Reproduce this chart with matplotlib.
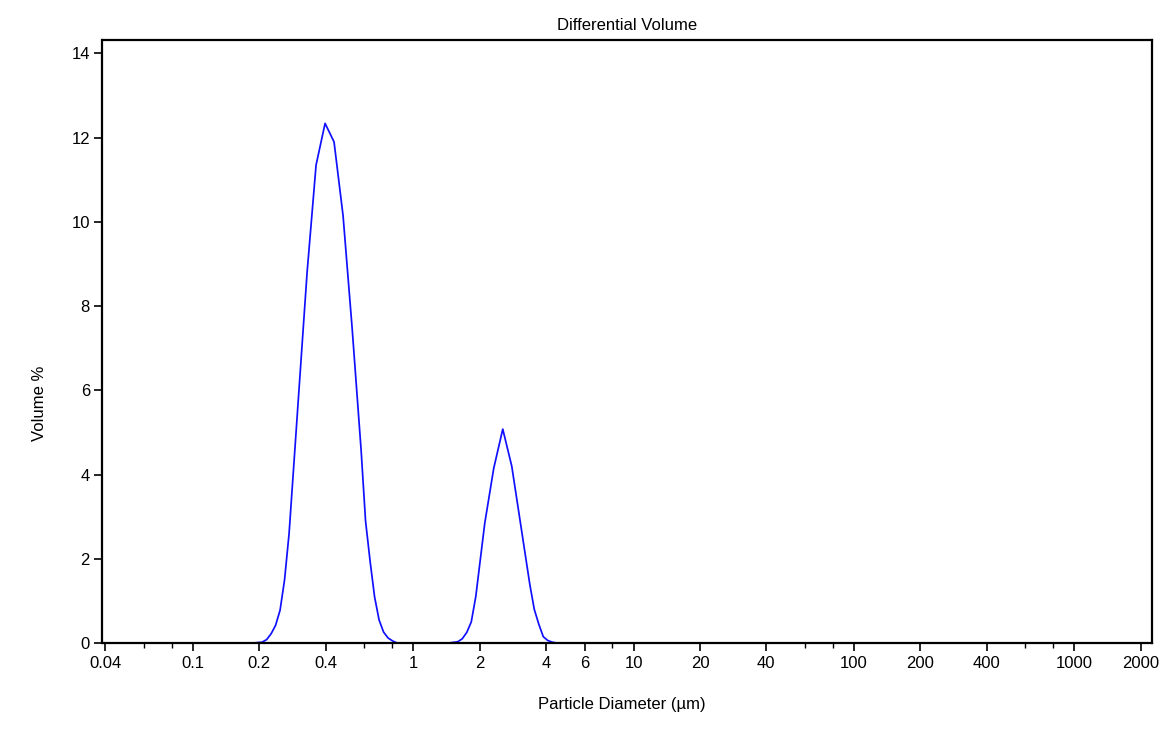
import matplotlib
matplotlib.use("Agg")
import matplotlib.pyplot as plt
from matplotlib.ticker import FixedLocator, FixedFormatter, NullFormatter

plt.rcParams['font.family'] = ['Liberation Sans', 'DejaVu Sans']

# ---- data ----
diam_peak1 = [0.1873, 0.2057, 0.2157, 0.2261, 0.2369, 0.2483, 0.2602, 0.2728,
              0.2997, 0.3293, 0.3617, 0.3974, 0.4365, 0.4796, 0.5269, 0.5789,
              0.6067, 0.6360, 0.6666, 0.6986, 0.7323, 0.7676, 0.8044, 0.8433]
vol_peak1 = [0.0, 0.02, 0.08, 0.22, 0.42, 0.78, 1.5, 2.6,
             5.7, 8.8, 11.35, 12.34, 11.9, 10.15, 7.5, 4.6,
             2.9, 1.95, 1.1, 0.55, 0.26, 0.12, 0.05, 0.0]

diam_peak2 = [1.448, 1.591, 1.667, 1.747, 1.832, 1.920, 2.110, 2.317, 2.546,
              2.797, 3.073, 3.376, 3.539, 3.709, 3.888, 4.075, 4.270, 4.477]
vol_peak2 = [0.0, 0.03, 0.1, 0.25, 0.5, 1.1, 2.85, 4.15, 5.08,
             4.2, 2.8, 1.4, 0.8, 0.45, 0.15, 0.06, 0.02, 0.0]

diam_ends = [0.04, 2000]

major_ticks = [0.04, 0.1, 0.2, 0.4, 1, 2, 4, 6, 10, 20, 40, 100, 200, 400, 1000, 2000]
major_labels = ["0.04", "0.1", "0.2", "0.4", "1", "2", "4", "6", "10", "20", "40",
                "100", "200", "400", "1000", "2000"]
minor_ticks = [0.06, 0.08, 0.6, 0.8, 8, 60, 80, 600, 800]
y_ticks = [0, 2, 4, 6, 8, 10, 12, 14]

title = "Differential Volume"
xlabel = "Particle Diameter (µm)"
ylabel = "Volume %"

# full curve (zeros between and outside the peaks)
x_all = [diam_ends[0]] + diam_peak1 + diam_peak2 + [diam_ends[1]]
y_all = [0.0] + vol_peak1 + vol_peak2 + [0.0]

W, H = 1169, 730
fig = plt.figure(figsize=(W / 100, H / 100), dpi=100)
ax = fig.add_axes([102.5 / W, 1 - 643 / H, (1152 - 102.5) / W, (643 - 40) / H])

ax.plot(x_all, y_all, color="#1010ff", lw=1.25, zorder=2)

ax.set_xscale("log")
ax.set_xlim(0.0388, 2255)
ax.set_ylim(0, 14.32)

ax.xaxis.set_major_locator(FixedLocator(major_ticks))
ax.xaxis.set_major_formatter(FixedFormatter(major_labels))
ax.xaxis.set_minor_locator(FixedLocator(minor_ticks))
ax.xaxis.set_minor_formatter(NullFormatter())
ax.set_yticks(y_ticks)
ax.set_yticklabels([str(v) for v in y_ticks])

ax.tick_params(axis="both", which="major", direction="out", length=6, width=1.2,
               labelsize=12, color="black", pad=3)
ax.tick_params(axis="x", which="minor", direction="out", length=3.5, width=1.0)

for s in ax.spines.values():
    s.set_linewidth(1.6)
    s.set_color("black")
    s.set_zorder(3)

ax.set_title(title, fontsize=12, y=1.0, pad=7)
ax.set_xlabel(xlabel, fontsize=12)
ax.xaxis.set_label_coords((622 - 102.5) / (1152 - 102.5), (643 - 704) / 603)
ax.xaxis.label.set_va("center")
ax.set_ylabel(ylabel, fontsize=12)
ax.yaxis.set_label_coords((40 - 102.5) / (1152 - 102.5), (643 - 403) / 603)
ax.yaxis.label.set_va("center")

fig.savefig("out.png", dpi=100, facecolor="white")
